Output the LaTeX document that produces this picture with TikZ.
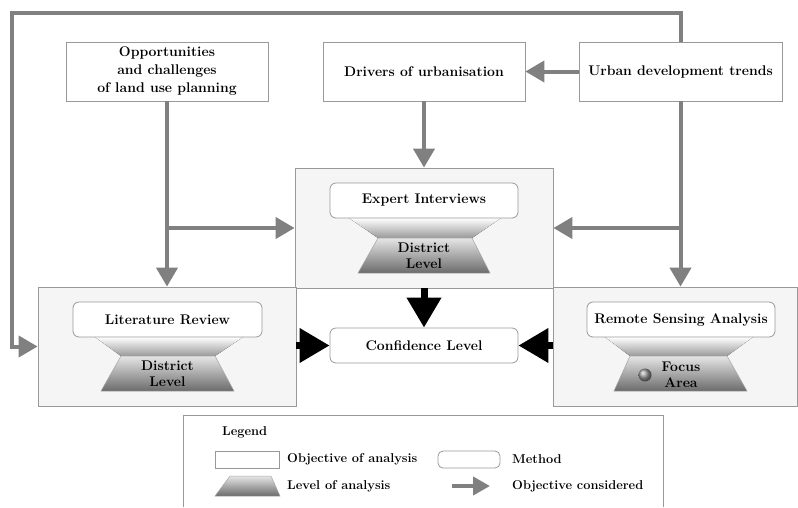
\documentclass[tikz,border=0pt]{standalone}
\usetikzlibrary{arrows.meta,shapes.geometric}
\begin{document}
\begin{tikzpicture}[x=1pt,y=-1pt,
 font=\fontsize{14}{18}\selectfont\bfseries,
 obj/.style={draw=gray!80, line width=0.8pt, fill=white, minimum width=202pt, minimum height=59pt, align=center, inner sep=0pt},
 grp/.style={draw=gray!80, line width=0.8pt, fill=gray!8, inner sep=0pt},
 meth/.style={draw=gray!80, line width=0.8pt, fill=white, rounded corners=6pt, minimum width=188pt, minimum height=35pt, inner sep=0pt},
 garrow/.style={draw=gray, line width=4pt, -{Triangle[length=19pt,width=21pt]}},
 barrow/.style={draw=black, line width=7pt, -{Triangle[length=30pt,width=33pt]}},
 funnel/.style={top color=white, bottom color=black!40},
 lvl/.style={draw=gray!70, line width=0.5pt, top color=black!10, bottom color=black!58},
 txt/.style={align=center, inner sep=0pt, font=\fontsize{14}{16}\selectfont\bfseries},
 legtxt/.style={anchor=west, inner sep=0pt, font=\fontsize{12.8}{15}\selectfont\bfseries}]
\useasboundingbox (0,0) rectangle (798,507);

% objectives
\node[obj] (opp) at (167,71.5) {Opportunities\\and challenges\\of land use planning};
\node[obj] (drv) at (424,71.5) {Drivers of urbanisation};
\node[obj, minimum width=203pt] (urb) at (680.5,71.5) {Urban development trends};

% group boxes
\node[grp, minimum width=258pt, minimum height=120pt] (gE) at (424,228) {};
\node[grp, minimum width=258pt, minimum height=119pt] (gL) at (167,346.5) {};
\node[grp, minimum width=244pt, minimum height=119pt] (gR) at (675,346.5) {};

% expert interviews
\fill[funnel] (349,218) -- (501,218) -- (472,238) -- (378,238) -- cycle;
\path[lvl] (378,238) -- (472,238) -- (490,273) -- (358,273) -- cycle;
\node[meth] (mE) at (424,200.5) {Expert Interviews};
\node[txt] (lE) at (424,256) {District\\Level};

% literature review
\fill[funnel] (95,337) -- (243,337) -- (215,356) -- (121,356) -- cycle;
\path[lvl] (121,356) -- (215,356) -- (234,391) -- (101,391) -- cycle;
\node[meth, minimum width=189pt] (mL) at (167.5,319.5) {Literature Review};
\node[txt] (lL) at (167.5,374) {District\\Level};

% remote sensing
\fill[funnel] (605,337) -- (753,337) -- (727,356) -- (630,356) -- cycle;
\path[lvl] (630,356) -- (727,356) -- (747,391) -- (614,391) -- cycle;
\node[meth] (mR) at (681,319.5) {Remote Sensing Analysis};
\node[txt] (lR) at (681,375) {Focus\\Area};
\shade[ball color=gray!80] (645,375) circle (6.5pt);

% confidence
\node[meth] (conf) at (424,345.5) {Confidence Level};
\draw[barrow] (gE.south) -- (conf.north);
\draw[barrow] (gL.east |- conf.west) -- (conf.west);
\draw[barrow] (gR.west |- conf.east) -- (conf.east);

% gray connectors
\draw[garrow] (urb.west) -- (drv.east);
\draw[garrow] (drv.south) -- (gE.north);
\draw[garrow] (opp.south) -- (gL.north);
\coordinate (jL) at (167,228);
\draw[garrow] (jL) -- (gE.west);
\draw[garrow] (urb.south) -- (urb.south |- gR.north);
\coordinate (jR) at (680.5,228);
\draw[garrow] (jR) -- (gE.east);
\coordinate (tl) at (12,13);
\draw[garrow] (urb.north) |- (tl) |- (gL.west);

% legend
\draw[gray!80, line width=0.8pt] (183,507) -- (183,415) -- (663,415) -- (663,507);
\node[legtxt] (legT) at (222,432) {Legend};
\node[draw=gray!80, line width=0.8pt, minimum width=64pt, minimum height=17pt, inner sep=0pt] (legO) at (247,459.5) {};
\node[legtxt] (legOt) at (287,459.5) {Objective of analysis};
\node[draw=gray!80, line width=0.8pt, rounded corners=5pt, minimum width=62pt, minimum height=17pt, inner sep=0pt] (legM) at (469,459.5) {};
\node[legtxt] (legMt) at (512,459.5) {Method};
\path[lvl] (230,476) -- (271,476) -- (280,496) -- (215,496) -- cycle;
\node[legtxt] (legLt) at (287,486) {Level of analysis};
\coordinate (la1) at (452,486);
\coordinate (la2) at (490,486);
\draw[draw=gray, line width=4pt, -{Triangle[length=17pt,width=18pt]}] (la1) -- (la2);
\node[legtxt] (legAt) at (512,486) {Objective considered};
\end{tikzpicture}
\end{document}
